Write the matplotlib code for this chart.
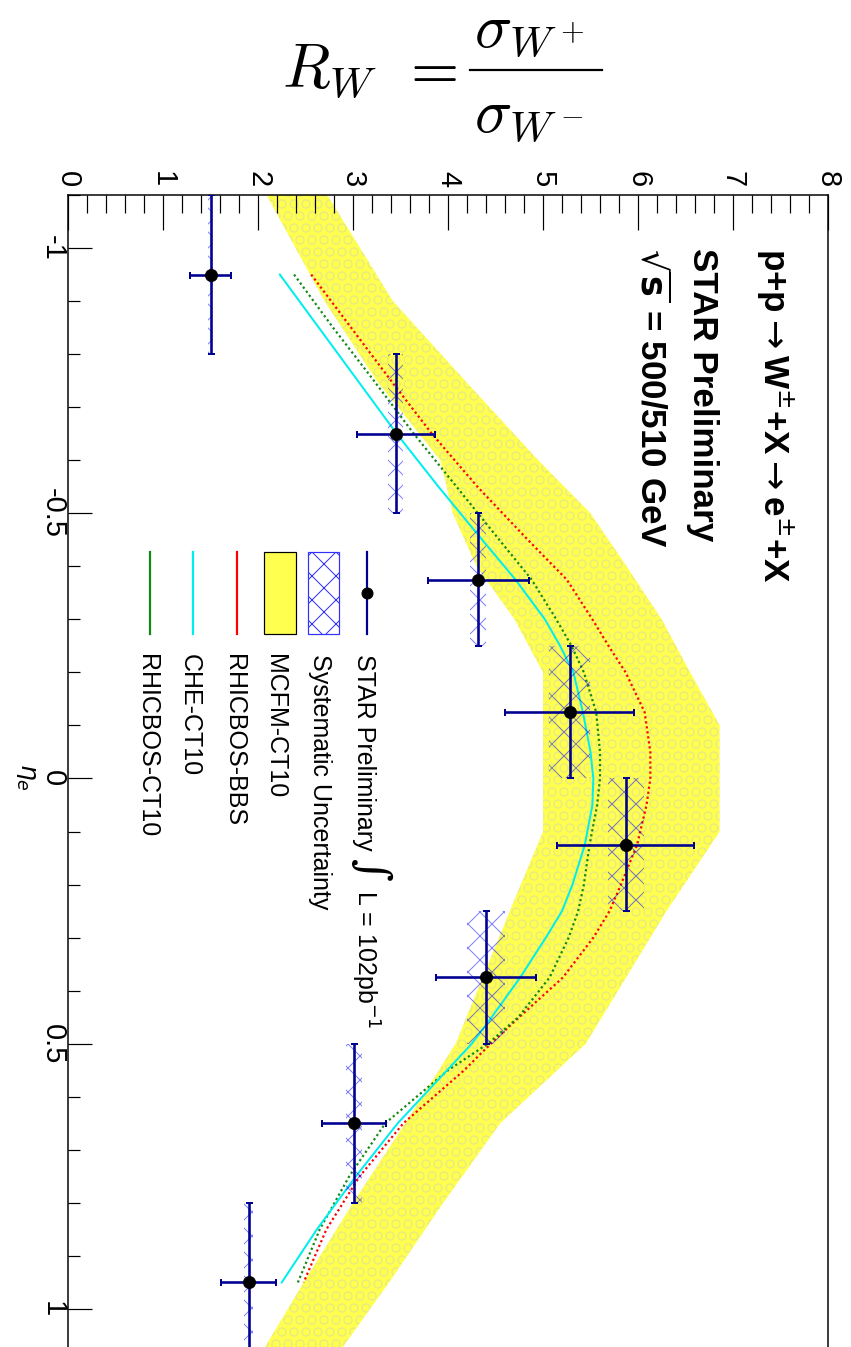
import numpy as np
import matplotlib
matplotlib.use("Agg")
import matplotlib.pyplot as plt
from matplotlib.patches import Rectangle
from matplotlib.lines import Line2D

plt.rcParams['font.family'] = ['Liberation Sans', 'DejaVu Sans']
plt.rcParams['hatch.linewidth'] = 1.0
plt.rcParams['axes.unicode_minus'] = False

# ---- STAR measurement: W+/W- cross-section ratio vs electron pseudorapidity ----
eta = [-0.95, -0.65, -0.375, -0.125, 0.125, 0.375, 0.65, 0.95]
eta_halfwidth = [0.15, 0.15, 0.125, 0.125, 0.125, 0.125, 0.15, 0.15]
rw = [1.50, 3.45, 4.32, 5.28, 5.87, 4.40, 3.01, 1.90]
rw_stat = [0.22, 0.41, 0.53, 0.68, 0.72, 0.53, 0.34, 0.285]
rw_sys = [0.03, 0.08, 0.085, 0.215, 0.19, 0.20, 0.08, 0.05]

# ---- theory predictions ----
eta_th = [-0.95, -0.85, -0.75, -0.65, -0.55, -0.45, -0.375, -0.3, -0.25, -0.2,
          -0.125, -0.05, 0.0, 0.05, 0.125, 0.2, 0.25, 0.3, 0.375, 0.45,
          0.5, 0.55, 0.65, 0.75, 0.85, 0.95]
rhicbos_bbs = [2.56, 2.98, 3.40, 3.83, 4.31, 4.84, 5.25, 5.52, 5.69, 5.87,
               6.07, 6.13, 6.13, 6.09, 5.99, 5.82, 5.70, 5.53, 5.21, 4.75,
               4.45, 4.17, 3.53, 3.07, 2.72, 2.48]
che_ct10 = [2.23, 2.64, 3.05, 3.46, 3.90, 4.36, 4.71, 5.02, 5.18, 5.32,
            5.42, 5.50, 5.53, 5.52, 5.44, 5.31, 5.20, 5.03, 4.76, 4.46,
            4.25, 3.99, 3.47, 3.03, 2.62, 2.25]
rhicbos_ct10 = [2.38, 2.79, 3.22, 3.64, 4.09, 4.54, 4.88, 5.14, 5.30, 5.43,
                5.56, 5.60, 5.60, 5.57, 5.49, 5.43, 5.37, 5.27, 5.07, 4.74,
                4.42, 4.00, 3.34, 2.96, 2.65, 2.42]

# MCFM-CT10 uncertainty band
eta_band = [-1.1, -0.9, -0.75, -0.6, -0.5, -0.4, -0.3, -0.2, -0.1, 0.1,
            0.25, 0.5, 0.65, 0.8, 0.95, 1.1]
mcfm_lo = [2.09, 2.70, 3.25, 3.92, 4.05, 4.30, 4.70, 5.00, 5.00, 5.00,
           4.65, 4.08, 3.55, 3.00, 2.48, 1.98]
mcfm_hi = [2.73, 3.42, 4.18, 4.95, 5.50, 5.88, 6.25, 6.55, 6.86, 6.86,
           6.30, 5.45, 4.55, 3.95, 3.38, 2.78]

rw_ticks = [0, 1, 2, 3, 4, 5, 6, 7, 8]
rw_ticklabels = ['0', '1', '2', '3', '4', '5', '6', '7', '8']
eta_ticks = [-1, -0.5, 0, 0.5, 1]
eta_ticklabels = ['-1', '-0.5', '0', '0.5', '1']

legend_labels = ['STAR Preliminary', 'Systematic Uncertainty', 'MCFM-CT10',
                 'RHICBOS-BBS', 'CHE-CT10', 'RHICBOS-CT10']

NAVY = '#000090'
YELLOW = '#ffff50'
HATCH_BLUE = (0.0, 0.0, 1.0, 0.5)

fig = plt.figure(figsize=(851 / 72, 1347 / 72), dpi=72)
fig.patch.set_facecolor('white')
ax = fig.add_axes([68 / 851, -15 / 1347, 760 / 851, 1167 / 1347])
ax.set_xlim(0, 8)
ax.set_ylim(1.1, -1.1)

# band with a faint dotted texture
ax.fill_betweenx(eta_band, mcfm_lo, mcfm_hi, facecolor=YELLOW, edgecolor='none',
                 linewidth=0, zorder=1)
ax.fill_betweenx(eta_band, mcfm_lo, mcfm_hi, facecolor='none',
                 edgecolor=(0.82, 0.82, 0.72, 0.35), hatch='O', linewidth=0, zorder=1.5)

# curves
dot = (0, (1.0, 1.3))
ax.plot(rhicbos_bbs, eta_th, color='red', lw=2.2, ls=dot, zorder=3)
ax.plot(rhicbos_ct10, eta_th, color='#118811', lw=2.2, ls=dot, zorder=3)
ax.plot(che_ct10, eta_th, color='#00eeee', lw=2.0, ls='-', zorder=3)

# systematic boxes
ax.barh(eta, [2 * s for s in rw_sys], height=[2 * h for h in eta_halfwidth],
        left=[r - s for r, s in zip(rw, rw_sys)], fill=False, hatch='x',
        edgecolor=HATCH_BLUE, linewidth=0, zorder=4)

# data points
ax.errorbar(rw, eta, xerr=rw_stat, yerr=eta_halfwidth, fmt='o', color='black',
            ms=12, ecolor=NAVY, elinewidth=2.6, capsize=3.5, capthick=2.0, zorder=5)

# axes styling
for sp in ax.spines.values():
    sp.set_linewidth(1.5)
ax.xaxis.tick_top()
ax.set_xticks(rw_ticks)
ax.set_xticklabels(rw_ticklabels)
ax.set_xticks(np.arange(0, 8.001, 0.2), minor=True)
ax.set_yticks(eta_ticks)
ax.set_yticklabels(eta_ticklabels)
ax.set_yticks(np.arange(-1.1, 1.1001, 0.1), minor=True)
ax.tick_params(axis='x', which='major', direction='in', length=35, width=1.2,
               labelsize=29, pad=8, labelrotation=-90, top=True, bottom=False)
ax.tick_params(axis='x', which='minor', direction='in', length=18, width=1.2,
               top=True, bottom=False)
ax.tick_params(axis='y', which='major', direction='in', length=24, width=1.2,
               labelsize=29, pad=1, labelrotation=-90, left=True, right=False)
ax.tick_params(axis='y', which='minor', direction='in', length=12, width=1.2,
               left=True, right=False)
for lab in ax.get_yticklabels():
    lab.set_verticalalignment('center')

# eta axis title
ax.text(-0.50, -0.03, r'$\eta_e$', math_fontfamily='dejavusans', fontsize=25,
        rotation=-90, rotation_mode='anchor', ha='left', va='baseline', clip_on=False)

# header text block
rot = dict(rotation=-90, rotation_mode='anchor', ha='left', va='baseline', clip_on=False)
ax.text(7.32, -1.0, r'p+p$\rightarrow$W$^{\pm}$+X$\rightarrow$e$^{\pm}$+X',
        fontsize=35, fontweight='bold', math_fontfamily='dejavusans', **rot)
ax.text(6.58, -1.0, 'STAR Preliminary', fontsize=35, fontweight='bold', **rot)
ax.text(6.03, -1.0, r'$\sqrt{\mathbf{s}}$ = 500/510 GeV', fontsize=35,
        fontweight='bold', math_fontfamily='dejavusans', **rot)

# legend
leg_baseline = [3.04, 2.58, 2.105, 1.67, 1.21, 0.76]
leg_text_eta = -0.235
sym_top, sym_bot = -0.427, -0.273
for lab, xb in zip(legend_labels, leg_baseline):
    ax.text(xb, leg_text_eta, lab, fontsize=25, **rot)
ax.plot([3.15, 3.15], [sym_top, sym_bot], color=NAVY, lw=2.2, zorder=6)
ax.plot([3.15], [(sym_top + sym_bot) / 2], 'o', color='black', ms=11, zorder=7)
ax.add_patch(Rectangle((2.53, sym_top), 0.32, sym_bot - sym_top, fill=False,
                       hatch='x', edgecolor='#3030ff', linewidth=1.2, zorder=6))
ax.add_patch(Rectangle((2.06, sym_top), 0.34, sym_bot - sym_top, facecolor=YELLOW,
                       edgecolor='black', linewidth=1.2, zorder=6))
ax.plot([1.78, 1.78], [sym_top, sym_bot], color='red', lw=2.2, zorder=6)
ax.plot([1.32, 1.32], [sym_top, sym_bot], color='#00eeee', lw=2.2, zorder=6)
ax.plot([0.86, 0.86], [sym_top, sym_bot], color='#118811', lw=2.2, zorder=6)
ax.text(3.18, 0.173, '\u222b', fontsize=44, family='DejaVu Serif', rotation=-90,
        rotation_mode='anchor', ha='center', va='center', clip_on=False)
ax.text(3.04, 0.21, r'L = 102pb$^{-1}$', fontsize=25, math_fontfamily='dejavusans', **rot)

# ratio definition  R_W = sigma(W+) / sigma(W-)
H = 1347.0
W = 851.0
cm = dict(math_fontfamily='cm', fontsize=62, ha='left', va='baseline')
fig.text(282 / W, 1 - 87 / H, r'$R_W$', **cm)
fig.text(400 / W, 1 - 87 / H, r'$=$', **cm)
fig.text(474 / W, 1 - 46 / H, r'$\sigma_{W^+}$', **cm)
fig.text(474 / W, 1 - 131 / H, r'$\sigma_{W^-}$', **cm)
fig.add_artist(Line2D([470 / W, 602 / W], [1 - 70 / H, 1 - 70 / H],
                      transform=fig.transFigure, color='black', lw=2.2))

fig.savefig('out.png', dpi=72, facecolor='white')
